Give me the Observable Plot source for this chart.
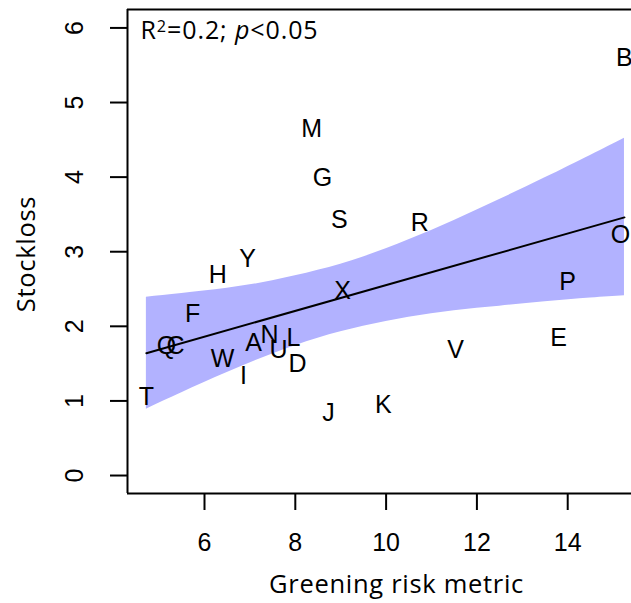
<!DOCTYPE html>
<html>
<head>
<meta charset="utf-8">
<script src="https://cdn.jsdelivr.net/npm/d3@7"></script>
<script src="https://cdn.jsdelivr.net/npm/@observablehq/plot@0.6"></script>
<style>
  html, body { margin: 0; padding: 0; background: #fff; overflow: hidden; }
</style>
</head>
<body>
<div id="chart"></div>
<script>
// Site labels and their values
const labels    = ["A","B","C","D","E","F","G","H","I","J","K","L","M","N","O","P","Q","R","S","T","U","V","W","X","Y"];
const greening  = [7.08,15.25,5.36,8.05,13.80,5.74,8.60,6.29,6.86,8.73,9.94,7.96,8.36,7.43,15.16,14.00,5.16,10.74,8.97,4.72,7.63,11.53,6.40,9.04,6.95];
const stockloss = [1.77,5.60,1.74,1.50,1.84,2.17,3.99,2.69,1.34,0.84,0.94,1.85,4.65,1.88,3.22,2.60,1.74,3.39,3.42,1.05,1.68,1.68,1.56,2.48,2.90];

// Fitted line and its confidence band
const fitX   = [4.72, 15.25];
const fitY   = [1.64, 3.46];
const bandX  = [4.72, 5.5, 6.5, 7.5, 8.5, 9.5, 10.5, 11.5, 12.5, 13.5, 14.5, 15.25];
const bandLo = [0.89, 1.11, 1.38, 1.63, 1.84, 2.00, 2.12, 2.21, 2.27, 2.33, 2.38, 2.41];
const bandHi = [2.39, 2.44, 2.51, 2.61, 2.75, 2.93, 3.16, 3.42, 3.70, 3.99, 4.29, 4.52];

// Axes
const xTicks = [6, 8, 10, 12, 14];
const yTicks = [0, 1, 2, 3, 4, 5, 6];
const xDomain = [4.304, 15.405];
const yDomain = [-0.241, 6.247];

const xTitle = "Greening risk metric";
const yTitle = "Stockloss";
const annotation = "R²=0.2; p<0.05";

const points = labels.map((l, i) => ({label: l, x: greening[i], y: stockloss[i]}));
const band = bandX.map((x, i) => ({x, lo: bandLo[i], hi: bandHi[i]}));
const fit = fitX.map((x, i) => ({x, y: fitY[i]}));

const sans = "'Liberation Sans', Arial, sans-serif";
const humanist = "'Open Sans', Lato, sans-serif";

const chart = Plot.plot({
  width: 631,
  height: 603,
  marginLeft: 127,
  marginRight: 0,
  marginTop: 9,
  marginBottom: 110,
  style: {fontFamily: sans, background: "#fff", color: "#000"},
  x: {domain: xDomain},
  y: {domain: yDomain},
  marks: [
    Plot.areaY(band, {x: "x", y1: "lo", y2: "hi", fill: "#b2b2ff", curve: "natural"}),
    Plot.line(fit, {x: "x", y: "y", stroke: "#000", strokeWidth: 2}),
    Plot.text(points, {x: "x", y: "y", text: "label", fontSize: 25, fontFamily: sans, fill: "#000"}),
    Plot.ruleY([yDomain[1]], {stroke: "#000", strokeWidth: 2}),
    Plot.ruleY([yDomain[0]], {stroke: "#000", strokeWidth: 2}),
    Plot.ruleX([xDomain[0]], {stroke: "#000", strokeWidth: 2}),
    Plot.axisX({ticks: xTicks, tickSize: 17, tickPadding: 23, fontSize: 25, label: null, strokeWidth: 2}),
    Plot.axisY({ticks: yTicks, tickSize: 17, tickFormat: () => "", label: null, strokeWidth: 2}),
    Plot.text(yTicks, {y: d => d, text: d => String(d), frameAnchor: "left", dx: -52.5, rotate: -90,
      textAnchor: "middle", lineAnchor: "middle", fontSize: 25, fontFamily: sans}),
    Plot.text([xTitle], {frameAnchor: "bottom", dx: 17, dy: 91, text: d => d, fontSize: 25.5,
      fontFamily: humanist, textAnchor: "middle", lineAnchor: "middle"}),
    Plot.text([yTitle], {frameAnchor: "left", dx: -101, dy: 2.5, rotate: -90, text: d => d, fontSize: 25.5,
      fontFamily: humanist, textAnchor: "middle", lineAnchor: "middle"}),
    Plot.text([annotation], {frameAnchor: "top-left", dx: 13, dy: 21, text: d => d, fontSize: 25,
      fontFamily: humanist, textAnchor: "start", lineAnchor: "middle"})
  ]
});

document.getElementById("chart").appendChild(chart);

// Letter spacing for the axis titles, to match the reference's wider set
d3.select(chart).selectAll("text")
  .filter(function() { return this.textContent === xTitle || this.textContent === yTitle; })
  .attr("letter-spacing", "0.7px");

// Superscript "2" and italic "p" in the annotation
d3.select(chart).selectAll("text").filter(function() { return this.textContent === annotation; })
  .attr("letter-spacing", "0.9px")
  .each(function() {
    const t = d3.select(this);
    t.text(null);
    t.append("tspan").text("R");
    t.append("tspan").attr("dy", "-0.4em").attr("font-size", "0.65em").text("2");
    t.append("tspan").attr("dy", "0.26em").text("=0.2; ");
    t.append("tspan").attr("font-style", "italic").text("p");
    t.append("tspan").text("<0.05");
  });
</script>
</body>
</html>
